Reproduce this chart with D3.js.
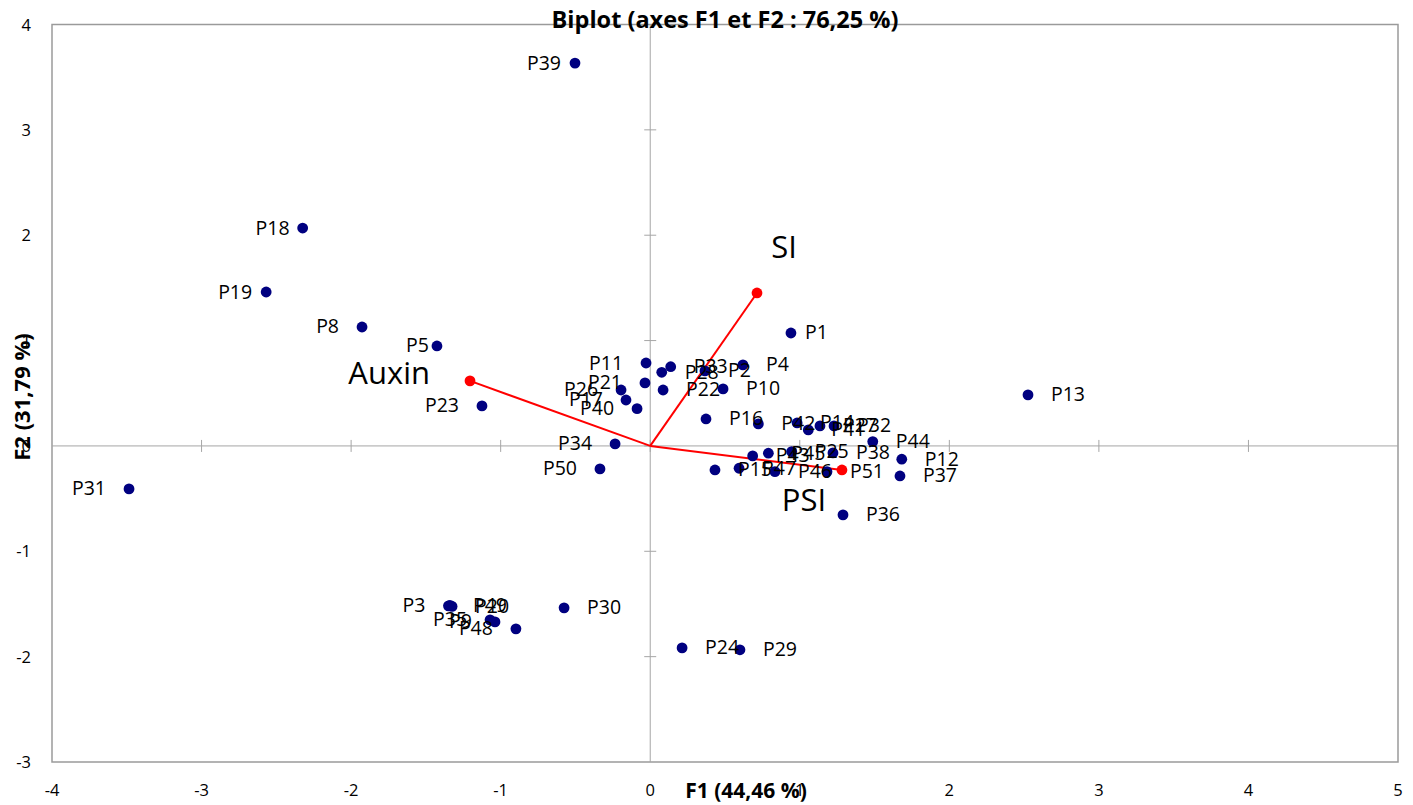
<!DOCTYPE html>
<html>
<head>
<meta charset="utf-8">
<script src="https://cdn.jsdelivr.net/npm/d3@7"></script>
<style>
  body { margin: 0; background: #fff; }
  svg text { font-family: "Open Sans", sans-serif; }
</style>
</head>
<body>
<svg id="chart" width="1413" height="805"></svg>
<script>
// observations (F1, F2)
const obsNames = ["P1","P2","P3","P4","P5","P8","P9","P10","P11","P12","P13","P14","P15","P16","P17","P18","P19","P20","P21","P22","P23","P24","P25","P26","P27","P28","P29","P30","P31","P32","P33","P34","P35","P36","P37","P38","P39","P40","P41","P42","P43","P44","P45","P46","P47","P48","P49","P50","P51"];
const obsF1 = [0.941,0.366,-1.349,0.620,-1.426,-1.927,-1.038,0.487,-0.028,1.682,2.526,0.982,0.433,0.373,-0.162,-2.324,-2.568,-1.325,-0.035,0.086,-1.125,0.213,0.946,-0.195,1.135,0.077,0.600,-0.576,-3.485,1.229,0.137,-0.235,-1.071,1.289,1.670,1.222,-0.503,-0.088,1.057,0.723,0.685,1.488,0.790,0.834,0.594,-0.898,-1.339,-0.336,1.182];
const obsF2 = [1.072,0.712,-1.518,0.769,0.949,1.129,-1.670,0.541,0.787,-0.126,0.484,0.218,-0.228,0.256,0.436,2.068,1.461,-1.523,0.598,0.531,0.380,-1.917,-0.054,0.531,0.190,0.699,-1.935,-1.537,-0.408,0.190,0.752,0.019,-1.651,-0.655,-0.285,-0.066,3.634,0.354,0.152,0.209,-0.095,0.041,-0.069,-0.244,-0.212,-1.736,-1.513,-0.218,-0.244];
// observations whose label sits on the left of the point
const leftLabels = ["P39","P18","P19","P8","P5","P23","P31","P11","P21","P26","P17","P40","P34","P50","P3","P35","P9","P48"];

// variables (loadings)
const varNames = ["SI","Auxin","PSI"];
const varF1 = [0.714, -1.205, 1.282];
const varF2 = [1.452, 0.617, -0.228];

const xTicks = [-4,-3,-2,-1,0,1,2,3,4,5];
const yTicks = [-3,-2,-1,0,1,2,3,4];

const svg = d3.select("#chart");
const plotLeft = 52, plotRight = 1398, plotTop = 24.5, plotBottom = 762;

const x = d3.scaleLinear().domain([-4, 5]).range([plotLeft, plotRight]);
const y = d3.scaleLinear().domain([-3, 4]).range([plotBottom, plotTop]);

// frame
svg.append("rect")
    .attr("x", plotLeft).attr("y", plotTop)
    .attr("width", plotRight - plotLeft).attr("height", plotBottom - plotTop)
    .attr("fill", "none")
    .attr("stroke", "#9a9a9a")
    .attr("stroke-width", 1.5);

// inner axes through the origin
const inner = svg.append("g").attr("stroke", "#a6a6a6").attr("stroke-width", 1);
inner.append("line").attr("x1", plotLeft).attr("x2", plotRight).attr("y1", y(0)).attr("y2", y(0));
inner.append("line").attr("x1", x(0)).attr("x2", x(0)).attr("y1", plotTop).attr("y2", plotBottom);
inner.selectAll(".xt").data(xTicks.filter(d => d > -4 && d < 5)).enter().append("line")
    .attr("x1", d => x(d)).attr("x2", d => x(d))
    .attr("y1", y(0) - 6).attr("y2", y(0) + 6);
inner.selectAll(".yt").data(yTicks.filter(d => d > -3 && d < 4)).enter().append("line")
    .attr("y1", d => y(d)).attr("y2", d => y(d))
    .attr("x1", x(0) - 6).attr("x2", x(0) + 6);

// tick labels outside the frame
svg.selectAll(".xl").data(xTicks).enter().append("text")
    .attr("x", d => x(d)).attr("y", 796)
    .attr("text-anchor", "middle")
    .attr("font-size", 16.5).attr("fill", "#000")
    .text(d => d);
svg.selectAll(".yl").data(yTicks).enter().append("text")
    .attr("x", 31).attr("y", d => y(d) + 6)
    .attr("text-anchor", "end")
    .attr("font-size", 16.5).attr("fill", "#000")
    .text(d => d);

// variable vectors
const vars = varNames.map((n, i) => ({ name: n, f1: varF1[i], f2: varF2[i] }));
svg.selectAll(".vec").data(vars).enter().append("line")
    .attr("x1", x(0)).attr("y1", y(0))
    .attr("x2", d => x(d.f1)).attr("y2", d => y(d.f2))
    .attr("stroke", "#ff0000").attr("stroke-width", 2);

// observations
const obs = obsNames.map((n, i) => ({ name: n, f1: obsF1[i], f2: obsF2[i], left: leftLabels.includes(n) }));
svg.selectAll(".pt").data(obs).enter().append("circle")
    .attr("cx", d => x(d.f1)).attr("cy", d => y(d.f2))
    .attr("r", 5.4)
    .attr("fill", "#000080");

svg.selectAll(".vpt").data(vars).enter().append("circle")
    .attr("cx", d => x(d.f1)).attr("cy", d => y(d.f2))
    .attr("r", 5.4)
    .attr("fill", "#ff0000");

// a few labels sit closer to their point
const gapFix = { P1: 14, P39: 14, P18: 13, P19: 14, P5: 8 };
svg.selectAll(".pl").data(obs).enter().append("text")
    .attr("x", d => {
        const g = gapFix[d.name] || 23;
        return x(d.f1) + (d.left ? -g : g);
    })
    .attr("y", d => y(d.f2) + 6.5)
    .attr("text-anchor", d => d.left ? "end" : "start")
    .attr("font-size", 19.5).attr("fill", "#000")
    .text(d => d.name);

// variable labels
const varOffset = { SI: [27, -35, "middle"], Auxin: [-40, 3, "end"], PSI: [-38, 41, "middle"] };
svg.selectAll(".vl").data(vars).enter().append("text")
    .attr("x", d => x(d.f1) + varOffset[d.name][0])
    .attr("y", d => y(d.f2) + varOffset[d.name][1])
    .attr("text-anchor", d => varOffset[d.name][2])
    .attr("font-size", 31).attr("fill", "#000")
    .text(d => d.name);

// titles
svg.append("text")
    .attr("x", 725).attr("y", 28)
    .attr("text-anchor", "middle")
    .attr("font-size", 23.5).attr("font-weight", "bold")
    .text("Biplot (axes F1 et F2 : 76,25 %)");

svg.append("text")
    .attr("x", 746).attr("y", 798)
    .attr("text-anchor", "middle")
    .attr("font-size", 21).attr("font-weight", "bold")
    .text("F1 (44,46 %)");

svg.append("text")
    .attr("transform", "translate(30,397) rotate(-90)")
    .attr("text-anchor", "middle")
    .attr("font-size", 22).attr("font-weight", "bold")
    .text("F2 (31,79 %)");
</script>
</body>
</html>
